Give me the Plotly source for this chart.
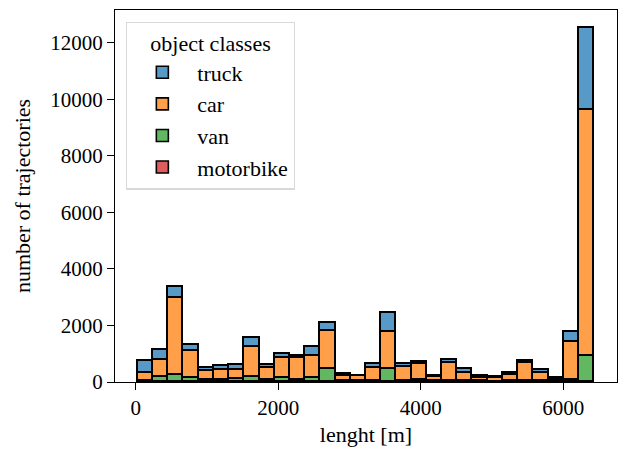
import numpy as np
import plotly.graph_objects as go

# ---- data ----
bin_start = 28.0      # left edge of first bin [m]
bin_end = 6433.0      # right edge of last bin [m]
n_bins = 30

truck = [423, 377, 410, 212, 120, 117, 166, 307, 117, 128,
         71, 306, 296, 84, 20, 141, 671, 106, 96, 23,
         96, 131, 60, 35, 46, 71, 96, 42, 353, 2893]
car = [264, 600, 2718, 964, 293, 354, 342, 1059, 434, 720,
       777, 788, 1328, 168, 175, 444, 1295, 465, 561, 155,
       631, 298, 132, 126, 228, 641, 298, 90, 1342, 8733]
van = [38, 160, 243, 138, 79, 78, 90, 184, 58, 125,
       79, 139, 455, 29, 19, 48, 466, 48, 58, 19,
       48, 29, 19, 14, 29, 38, 29, 19, 78, 900]
motorbike = [2, 3, 4, 3, 2, 2, 2, 3, 2, 2,
             2, 2, 4, 1, 1, 2, 4, 2, 2, 1,
             2, 1, 1, 1, 1, 2, 1, 1, 3, 4]

classes = ["truck", "car", "van", "motorbike"]   # legend order
colors = {
    "truck": "#5799c7",
    "car": "#ff9f4a",
    "van": "#61b861",
    "motorbike": "#e05d5e",
}
series = {"truck": truck, "car": car, "van": van, "motorbike": motorbike}

edges = np.linspace(bin_start, bin_end, n_bins + 1)
centers = (edges[:-1] + edges[1:]) / 2
width = edges[1] - edges[0]

FONT = "Liberation Serif"
F_TICK = dict(family=FONT, size=21, color="black")
F_TEXT = dict(family=FONT, size=22, color="black")

fig = go.Figure()
# bottom of the stack first
for name in ["motorbike", "van", "car", "truck"]:
    fig.add_trace(go.Bar(
        x=centers, y=series[name], width=width, name=name,
        legendgroup=name, legendrank=classes.index(name) + 1,
        marker=dict(color=colors[name], line=dict(color="black", width=1.6)),
    ))

totals = np.sum([truck, car, van, motorbike], axis=0)
pad = 0.05 * (bin_end - bin_start)

axis_common = dict(
    ticks="outside", ticklen=7, tickwidth=1.3, tickcolor="black",
    showline=True, linecolor="black", linewidth=1.3, mirror=True,
    showgrid=False, zeroline=False, tickformat="d", tickfont=F_TICK,
)

fig.update_layout(
    width=620, height=451,
    barmode="stack", bargap=0,
    plot_bgcolor="white", paper_bgcolor="white",
    margin=dict(l=115, r=3, t=10, b=69),
    font=F_TEXT,
    legend=dict(
        title=dict(text="object classes", side="top center", font=F_TEXT),
        traceorder="grouped", tracegroupgap=0,
        x=0.022, y=0.969, xanchor="left", yanchor="top",
        bgcolor="white", bordercolor="#d9d9d9", borderwidth=1.3,
        font=F_TEXT, itemwidth=60,
    ),
    xaxis=dict(
        range=[bin_start - pad, bin_end + pad],
        tickvals=[0, 2000, 4000, 6000],
        title=dict(text="lenght [m]", standoff=7, font=F_TEXT),
        **axis_common,
    ),
    yaxis=dict(
        range=[0, totals.max() * 1.05],
        tickvals=[0, 2000, 4000, 6000, 8000, 10000, 12000],
        title=dict(text="number of trajectories", standoff=13, font=F_TEXT),
        **axis_common,
    ),
)

fig.write_html("out.html")
